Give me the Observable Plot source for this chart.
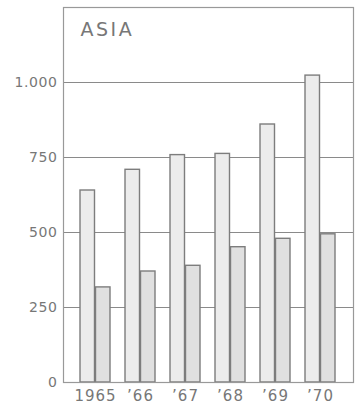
<!DOCTYPE html>
<html>
<head>
<meta charset="utf-8">
<script src="https://cdn.jsdelivr.net/npm/d3@7"></script>
<script src="https://cdn.jsdelivr.net/npm/@observablehq/plot@0.6"></script>
<style>
  html, body { margin: 0; padding: 0; background: #fff; }
  g[aria-label="x-axis tick label"] text { letter-spacing: 1px; font-size: 15px; }
  g[aria-label="y-axis tick label"] text { letter-spacing: 0.6px; }
  g[aria-label="text"] text { letter-spacing: 2.5px; }
</style>
</head>
<body>
<div id="chart"></div>
<script>
const years = ["1965", "1966", "1967", "1968", "1969", "1970"];
const yearLabels = ["1965", "\u201966", "\u201967", "\u201968", "\u201969", "\u201970"];
const seriesA = [640, 709, 758, 762, 860, 1023];
const seriesB = [317, 370, 389, 451, 479, 494];
const yTicks = [0, 250, 500, 750, 1000];
const yTickLabels = ["0", "250", "500", "750", "1.000"];
const gridValues = [250, 500, 750, 1000];
const title = "ASIA";

const dataA = years.map((y, i) => ({year: y, value: seriesA[i]}));
const dataB = years.map((y, i) => ({year: y, value: seriesB[i]}));

const chart = Plot.plot({
  width: 357,
  height: 408,
  marginLeft: 63,
  marginRight: 4,
  marginTop: 7,
  marginBottom: 26,
  style: {fontFamily: "DejaVu Sans", fontSize: "14px", color: "#777", background: "#fff"},
  x: {domain: years, padding: 0.326, tickSize: 0, tickPadding: 8,
      tickFormat: d => yearLabels[years.indexOf(d)], label: null},
  y: {domain: [0, 1250], ticks: yTicks, tickSize: 0, tickPadding: 6,
      tickFormat: d => yTickLabels[yTicks.indexOf(d)], label: null},
  marks: [
    Plot.ruleY(gridValues, {stroke: "#8a8a8a", strokeWidth: 1}),
    Plot.barY(dataA, {x: "year", y: "value", insetRight: 15.5, fill: "#ececec", stroke: "#7d7d7d", strokeWidth: 1.4}),
    Plot.barY(dataB, {x: "year", y: "value", insetLeft: 15.5, fill: "#e0e0e0", stroke: "#7d7d7d", strokeWidth: 1.4}),
    Plot.frame({stroke: "#999", strokeWidth: 1.2}),
    Plot.text([title], {frameAnchor: "top-left", dx: 17, dy: 15, fontSize: 19, fill: "#777", lineAnchor: "top", textAnchor: "start"})
  ]
});
document.getElementById("chart").appendChild(chart);
</script>
</body>
</html>
